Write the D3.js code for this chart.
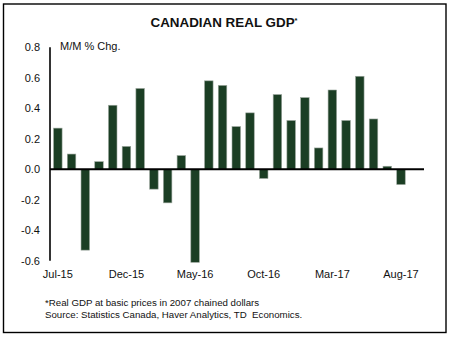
<!DOCTYPE html>
<html>
<head>
<meta charset="utf-8">
<script src="https://cdn.jsdelivr.net/npm/d3@7"></script>
<style>
  html, body { margin: 0; padding: 0; background: #fff; }
  svg { display: block; font-family: Arial, "Liberation Sans", sans-serif; }
</style>
</head>
<body>
<svg id="chart" width="450" height="337"></svg>
<script>
// Monthly change in Canadian real GDP, M/M %
const months = [
  "Jul-15","Aug-15","Sep-15","Oct-15","Nov-15","Dec-15",
  "Jan-16","Feb-16","Mar-16","Apr-16","May-16","Jun-16",
  "Jul-16","Aug-16","Sep-16","Oct-16","Nov-16","Dec-16",
  "Jan-17","Feb-17","Mar-17","Apr-17","May-17","Jun-17",
  "Jul-17","Aug-17"
];
const gdpChange = [
  0.27, 0.10, -0.53, 0.05, 0.42, 0.15,
  0.53, -0.13, -0.22, 0.09, -0.61, 0.58,
  0.55, 0.28, 0.37, -0.06, 0.49, 0.32,
  0.47, 0.14, 0.52, 0.32, 0.61, 0.33,
  0.02, -0.10
];
const yTicks = [0.8, 0.6, 0.4, 0.2, 0.0, -0.2, -0.4, -0.6];
const xTickLabels = ["Jul-15","Dec-15","May-16","Oct-16","Mar-17","Aug-17"];

const svg = d3.select("#chart");

// outer frame
svg.append("rect")
  .attr("x", 3.5).attr("y", 4).attr("width", 442.5).attr("height", 328.5)
  .attr("fill", "none").attr("stroke", "#000").attr("stroke-width", 1.4);

// title
const title = svg.append("text")
  .attr("x", 224).attr("y", 27)
  .attr("text-anchor", "middle")
  .attr("font-size", 13.4).attr("font-weight", "bold").attr("fill", "#111");
title.append("tspan").text("CANADIAN REAL GDP");
title.append("tspan").attr("font-size", 7.5).attr("dy", -4).text("*");

const x0 = 50;
const step = 13.8;
const x = d3.scaleBand()
  .domain(months)
  .range([x0, x0 + step * months.length])
  .paddingInner(0.38)
  .paddingOuter(0.26);

const y = d3.scaleLinear()
  .domain([-0.6, 0.8])
  .range([260.8, 47.3]);

// y axis labels
svg.append("g").selectAll("text")
  .data(yTicks)
  .join("text")
  .attr("x", 40).attr("y", d => y(d) + 4)
  .attr("text-anchor", "end")
  .attr("font-size", 11).attr("fill", "#111")
  .text(d => d.toFixed(1));

// y axis line
svg.append("line")
  .attr("x1", x0).attr("x2", x0)
  .attr("y1", y(0.8)).attr("y2", y(-0.6))
  .attr("stroke", "#000").attr("stroke-width", 1.6);

// unit label
svg.append("text")
  .attr("x", 60).attr("y", 50)
  .attr("font-size", 11).attr("fill", "#111")
  .text("M/M % Chg.");

// bars
svg.append("g").selectAll("rect")
  .data(months.map((m, i) => ({ m, v: gdpChange[i] })))
  .join("rect")
  .attr("x", d => x(d.m))
  .attr("width", x.bandwidth())
  .attr("y", d => y(Math.max(0, d.v)))
  .attr("height", d => Math.abs(y(d.v) - y(0)))
  .attr("fill", "#1b3e24")
  .attr("stroke", "#9aa59c")
  .attr("stroke-width", 0.6);

// zero line
svg.append("line")
  .attr("x1", x0).attr("x2", 424)
  .attr("y1", y(0)).attr("y2", y(0))
  .attr("stroke", "#000").attr("stroke-width", 2);

// x axis labels
svg.append("g").selectAll("text")
  .data(xTickLabels)
  .join("text")
  .attr("x", d => x(d) + x.bandwidth() / 2)
  .attr("y", 278)
  .attr("text-anchor", "middle")
  .attr("font-size", 11).attr("fill", "#111")
  .text(d => d);

// footnotes
svg.append("text")
  .attr("x", 45).attr("y", 306)
  .attr("font-size", 9.7).attr("fill", "#111")
  .text("*Real GDP at basic prices in 2007 chained dollars");
svg.append("text")
  .attr("x", 45).attr("y", 318)
  .attr("font-size", 9.7).attr("fill", "#111")
  .attr("xml:space", "preserve")
  .text("Source: Statistics Canada, Haver Analytics, TD  Economics.");
</script>
</body>
</html>
